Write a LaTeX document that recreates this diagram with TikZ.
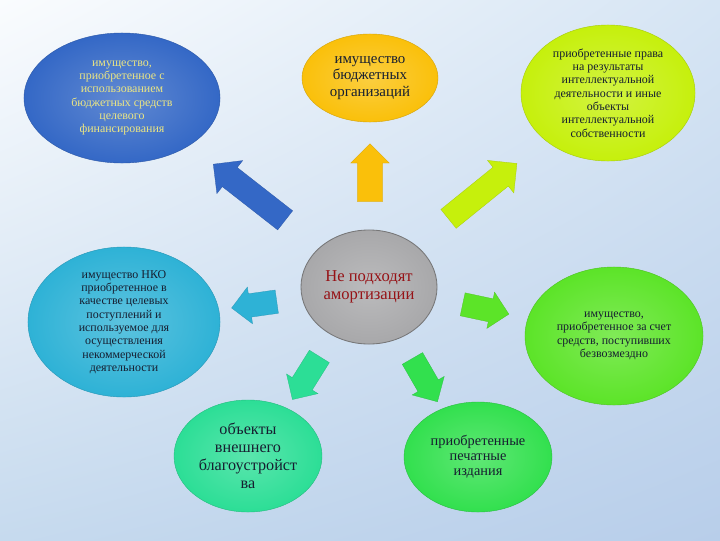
\documentclass[tikz,border=0pt]{standalone}
\usepackage{fontspec}
\setmainfont{Liberation Serif}
\usetikzlibrary{shapes.geometric,shapes.arrows,shadings}
\definecolor{skyA}{RGB}{250,252,254}
\definecolor{skyB}{RGB}{214,229,244}
\definecolor{skyC}{RGB}{198,218,238}
\definecolor{skyD}{RGB}{184,206,234}
\definecolor{royal}{RGB}{52,104,198}
\definecolor{sun}{RGB}{250,192,10}
\definecolor{lime}{RGB}{198,240,12}
\definecolor{lagoon}{RGB}{46,178,214}
\definecolor{grass}{RGB}{92,228,40}
\definecolor{mint}{RGB}{44,222,150}
\definecolor{leaf}{RGB}{50,224,78}
\definecolor{stone}{RGB}{168,168,170}
\definecolor{straw}{RGB}{236,230,130}
\definecolor{ink}{RGB}{22,30,48}
\definecolor{wine}{RGB}{150,18,22}
\tikzset{
  blob/.style={ellipse,inner sep=0pt,align=center,draw=#1!85!black,line width=0.3pt,
    inner color=#1!78!white,outer color=#1,text=ink},
  blob/.default=royal,
  fine/.style={font=\fontsize{8.5}{9.5}\selectfont},
  mid/.style={font=\fontsize{10.6}{11.5}\selectfont},
  big/.style={font=\fontsize{11.8}{13}\selectfont},
  % block arrows
  bigarrow/.style={single arrow,fill=#1,draw=#1!85!black,line width=0.2pt,inner xsep=0pt,inner ysep=0.3cm,
    text height=0pt,text depth=0pt,single arrow head extend=0.22cm,single arrow head indent=0pt},
  smallarrow/.style={single arrow,fill=#1,draw=#1!85!black,line width=0.2pt,inner xsep=0pt,inner ysep=0.29cm,
    text height=0pt,text depth=0pt,single arrow head extend=0.17cm,single arrow head indent=0pt},
}

\begin{document}
\begin{tikzpicture}[x=0.025cm,y=-0.025cm]
  \shade[upper left=skyA,upper right=skyB,lower left=skyC,lower right=skyD] (0,0) rectangle (720,540);
  \useasboundingbox (0,0) rectangle (720,540);

  % outer ellipses
  \node[blob=royal,fine,text=straw,minimum width=4.9cm,minimum height=3.25cm] (budget) at (122,98)
    {имущество,\\приобретенное с\\использованием\\бюджетных средств\\целевого\\финансирования};
  \node[blob=sun,mid,minimum width=3.4cm,minimum height=2.2cm] (org) at (370,78)
    {имущество\\бюджетных\\организаций};
  \node[blob=lime,fine,minimum width=4.35cm,minimum height=3.4cm] (intel) at (608,93)
    {приобретенные права\\на результаты\\интеллектуальной\\деятельности и иные\\объекты\\интеллектуальной\\собственности};
  \node[blob=lagoon,fine,minimum width=4.8cm,minimum height=3.75cm] (nko) at (124,322)
    {имущество НКО\\приобретенное в\\качестве целевых\\поступлений и\\используемое для\\осуществления\\некоммерческой\\деятельности};
  \node[blob=grass,fine,minimum width=4.45cm,minimum height=3.45cm] (gratis) at (614,336)
    {имущество,\\приобретенное за счет\\средств, поступивших\\безвозмездно};
  \node[blob=mint,font=\fontsize{11.5}{12.7}\selectfont,minimum width=3.7cm,minimum height=2.8cm] (improve) at (248,456)
    {объекты\\внешнего\\благоустройст\\ва};
  \node[blob=leaf,font=\fontsize{10.2}{10.8}\selectfont,minimum width=3.7cm,minimum height=2.75cm] (print) at (478,457)
    {приобретенные\\печатные\\издания};

  % centre
  \node[blob=stone,big,text=wine,draw=stone!70!black,line width=0.6pt,
    minimum width=3.4cm,minimum height=2.85cm] (hub) at (369,287) {Не подходят\\амортизации};

  % arrows out of the centre
  \foreach \n/\x/\y/\a/\l/\c in {toBudget/254/196/142/2.28/royal,toIntel/478/195/39/2.2/lime}
    \node[bigarrow=\c,rotate=\a,minimum height=\l cm] (\n) at (\x,\y) {};
  \node[bigarrow=sun,inner ysep=0.31cm,single arrow head extend=0.17cm,rotate=90,minimum height=1.45cm]
    (toOrg) at (370,179) {};
  \foreach \n/\x/\y/\a/\l/\c in {toNko/260/304/188/1.14/lagoon,toGratis/480/308/-12/1.18/grass,
      toImprove/309/373/238/1.27/mint,toPrint/422/375/-60/1.25/leaf}
    \node[smallarrow=\c,rotate=\a,minimum height=\l cm] (\n) at (\x,\y) {};
\end{tikzpicture}
\end{document}
